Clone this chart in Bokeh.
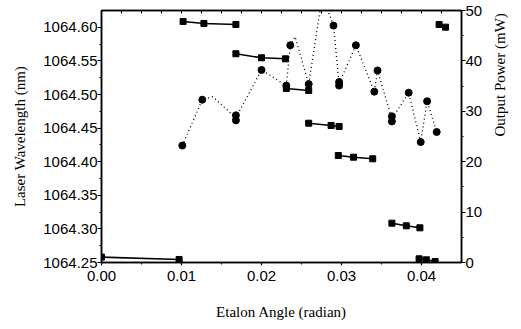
import math
from bokeh.plotting import figure
from bokeh.models import (Range1d, LinearAxis, FixedTicker, NumeralTickFormatter,
                          CustomJSTickFormatter)
from bokeh.embed import file_html
from bokeh.resources import INLINE

# ---- data ----
# laser wavelength (nm), grouped by mode (solid-line segments, squares)
wl_angle = [
    [0.0, 0.0097],
    [0.0102, 0.0128, 0.0168],
    [0.0168, 0.0200, 0.0230],
    [0.0231, 0.0259],
    [0.0259, 0.0287, 0.0297],
    [0.0296, 0.0315, 0.0339],
    [0.0363, 0.0381, 0.0398],
    [0.0397, 0.0406, 0.0417],
    [0.0422, 0.0430],
]
wl_nm = [
    [1064.258, 1064.2545],
    [1064.6086, 1064.6057, 1064.6042],
    [1064.5606, 1064.5546, 1064.5531],
    [1064.509, 1064.506],
    [1064.4573, 1064.4539, 1064.4524],
    [1064.4092, 1064.4067, 1064.4043],
    [1064.3085, 1064.3046, 1064.3016],
    [1064.2555, 1064.254, 1064.2515],
    [1064.6042, 1064.6002],
]

# output power (mW), circles
pw_angle = [0.0101, 0.0126, 0.0168, 0.0168, 0.0200, 0.0231, 0.0236, 0.0259,
            0.0290, 0.0297, 0.0297, 0.0318, 0.0341, 0.0345, 0.0363, 0.0363,
            0.0384, 0.0399, 0.0407, 0.0419]
pw_mw = [23.2, 32.3, 29.2, 28.2, 38.2, 35.1, 43.1, 35.4,
         47.0, 35.8, 35.1, 43.1, 33.9, 38.1, 29.0, 28.0,
         33.7, 23.9, 32.0, 25.9]

# dotted guide curve through the power points (vertices)
fit_angle = [0.0101, 0.0126, 0.0139, 0.0168, 0.0200, 0.0231, 0.0236, 0.0242,
             0.0259, 0.0276, 0.0290, 0.0297, 0.0318, 0.0341, 0.0345, 0.0363,
             0.0384, 0.0399, 0.0407, 0.0419]
fit_mw = [23.2, 32.3, 32.9, 28.7, 38.2, 35.1, 43.1, 44.8,
          35.4, 53.0, 47.0, 35.5, 43.1, 33.9, 38.1, 28.5,
          33.7, 23.9, 32.0, 25.9]

x_ticks = [0.00, 0.01, 0.02, 0.03, 0.04]
x_minor = [0.005, 0.015, 0.025, 0.035]
top_ticks = [0.0025 * i for i in range(1, 18)]
wl_ticks = [1064.25, 1064.30, 1064.35, 1064.40, 1064.45, 1064.50, 1064.55, 1064.60]
wl_minor = [1064.275, 1064.325, 1064.375, 1064.425, 1064.475, 1064.525, 1064.575]
pw_ticks = [0, 10, 20, 30, 40, 50]
pw_minor = [5, 15, 25, 35, 45]

TICK_FONT = "Liberation Sans"
TITLE_FONT = "Liberation Serif"

p = figure(width=519, height=327, output_backend="svg", toolbar_location=None,
           x_range=Range1d(0, 0.045), y_range=Range1d(1064.25, 1064.625),
           min_border_left=101, min_border_right=56, min_border_top=10,
           min_border_bottom=65, x_axis_label="Etalon Angle (radian)",
           y_axis_label="Laser Wavelength (nm)")
p.extra_y_ranges = {"power": Range1d(0, 50)}
p.xgrid.visible = False
p.ygrid.visible = False
p.outline_line_color = "black"
p.outline_line_width = 1.5
p.background_fill_color = "white"
p.border_fill_color = "white"

def style(ax):
    ax.axis_line_color = "black"
    ax.axis_line_width = 1.5
    ax.major_tick_line_color = "black"
    ax.minor_tick_line_color = "black"
    ax.major_tick_line_width = 1.2
    ax.major_label_text_font = TICK_FONT
    ax.major_label_text_font_size = "15px"
    ax.major_label_text_color = "black"
    ax.axis_label_text_font = TITLE_FONT
    ax.axis_label_text_font_size = "15px"
    ax.axis_label_text_font_style = "normal"
    ax.axis_label_text_color = "black"

xa = p.xaxis[0]
style(xa)
xa.ticker = FixedTicker(ticks=x_ticks, minor_ticks=x_minor)
xa.formatter = NumeralTickFormatter(format="0.00")
xa.major_tick_in = 0
xa.major_tick_out = 3
xa.minor_tick_in = 0
xa.minor_tick_out = 2
xa.major_label_standoff = 5
xa.axis_label_standoff = 20

ya = p.yaxis[0]
style(ya)
ya.ticker = FixedTicker(ticks=wl_ticks, minor_ticks=wl_minor)
ya.formatter = NumeralTickFormatter(format="0.00")
ya.major_tick_in = 0
ya.major_tick_out = 4
ya.minor_tick_in = 0
ya.minor_tick_out = 2
ya.major_label_standoff = 0
ya.axis_label_standoff = 12

ra = LinearAxis(y_range_name="power", axis_label="Output Power (mW)",
                ticker=FixedTicker(ticks=pw_ticks, minor_ticks=pw_minor),
                formatter=NumeralTickFormatter(format="0"))
style(ra)
ra.major_tick_in = 0
ra.major_tick_out = 4
ra.minor_tick_in = 0
ra.minor_tick_out = 2
ra.major_label_standoff = 0
ra.axis_label_standoff = 15
if "axis_label_orientation" in ra.properties():
    ra.axis_label_orientation = math.pi / 2
p.add_layout(ra, "right")

ta = LinearAxis(ticker=FixedTicker(ticks=top_ticks, minor_ticks=[]),
                formatter=CustomJSTickFormatter(code="return ''"),
                major_label_text_font_size="0px")
ta.axis_line_color = "black"
ta.axis_line_width = 1.5
ta.major_tick_in = 3
ta.major_tick_out = 0
ta.major_label_standoff = 0
ta.major_tick_line_color = "black"
p.add_layout(ta, "above")

# wavelength: solid segments with squares
p.multi_line(xs=wl_angle, ys=wl_nm, line_color="black", line_width=1.6)
flat_x = [a for g in wl_angle for a in g]
flat_y = [w for g in wl_nm for w in g]
p.scatter(flat_x, flat_y, marker="square", size=6, color="black")

# power: dotted guide curve with circles
p.line(fit_angle, fit_mw, y_range_name="power", line_color="black",
       line_width=1.3, line_dash="1 3")
p.scatter(pw_angle, pw_mw, y_range_name="power", marker="circle", size=7,
          color="black")

open("out.html", "w").write(file_html(p, INLINE))
